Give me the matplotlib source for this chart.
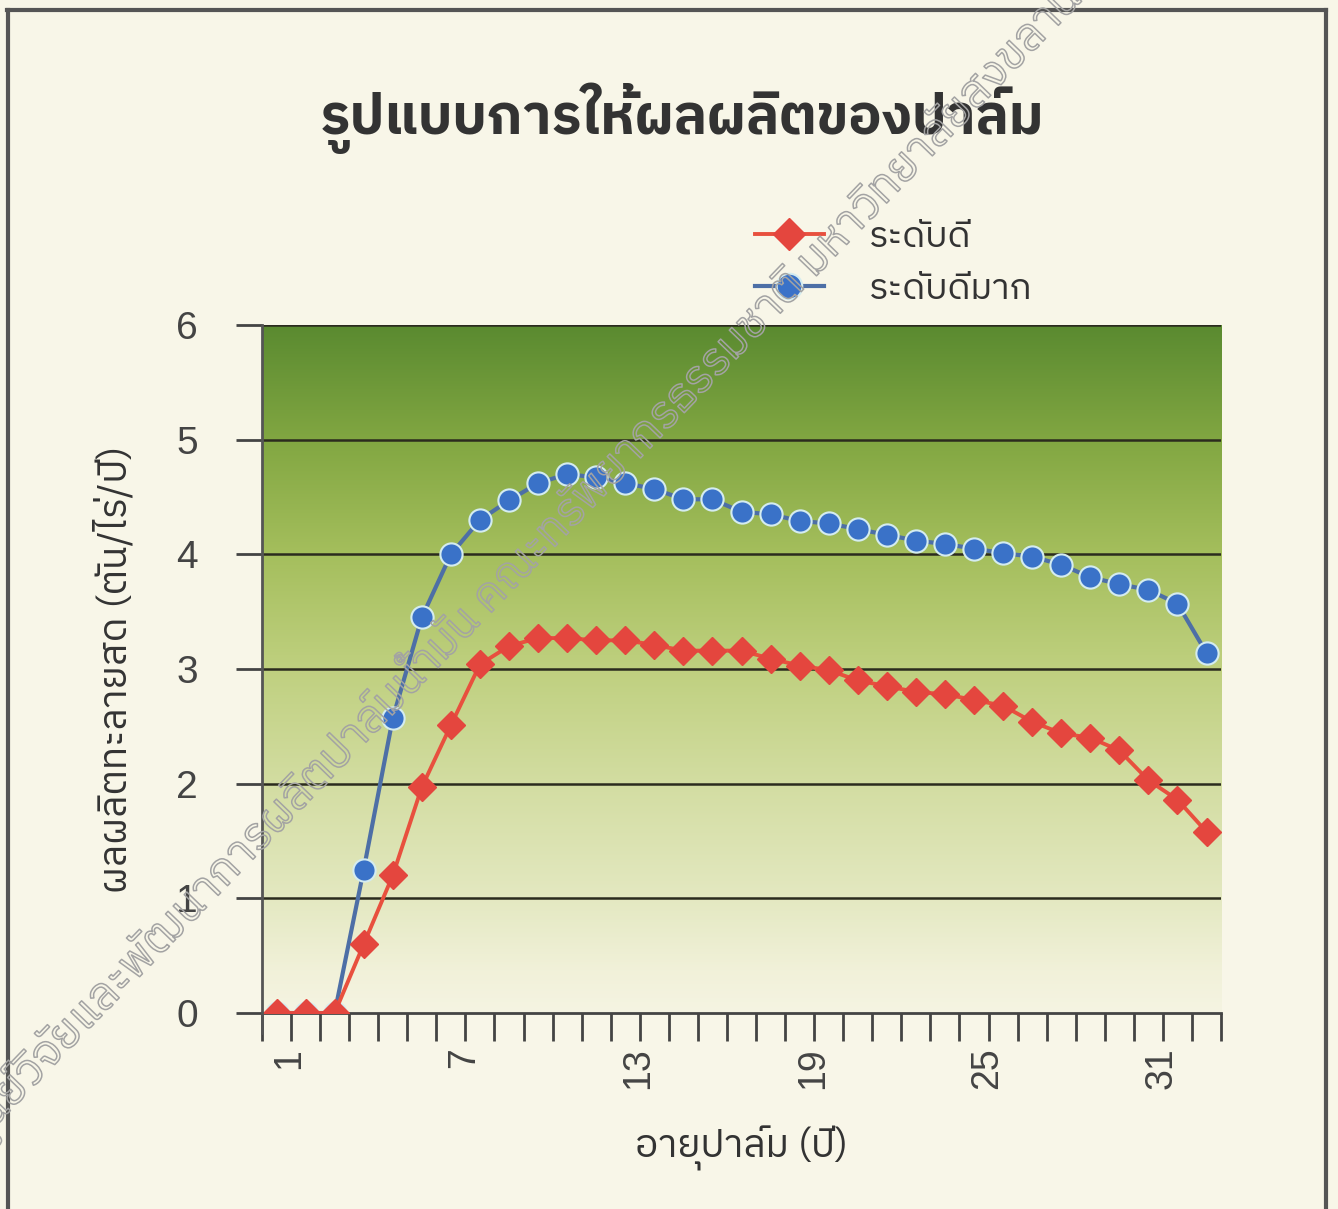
import matplotlib
matplotlib.use('Agg')
import matplotlib.pyplot as plt
import matplotlib.patheffects as pe
from matplotlib import font_manager
from matplotlib.colors import LinearSegmentedColormap
from matplotlib.lines import Line2D
import numpy as np

# palm yield (ton/rai/year) by palm age
years = np.arange(1, 34)
good = [0, 0, 0, 0.6, 1.2, 1.97, 2.51, 3.04, 3.2, 3.27, 3.27, 3.25, 3.25, 3.21,
        3.16, 3.16, 3.16, 3.09, 3.03, 2.99, 2.9, 2.85, 2.8, 2.78, 2.73, 2.68,
        2.54, 2.44, 2.4, 2.29, 2.03, 1.86, 1.58]
very_good = [0, 0, 0, 1.25, 2.57, 3.45, 4.0, 4.3, 4.47, 4.62, 4.7, 4.67, 4.62,
             4.57, 4.48, 4.48, 4.37, 4.35, 4.29, 4.27, 4.22, 4.17, 4.12, 4.09,
             4.05, 4.01, 3.98, 3.91, 3.8, 3.74, 3.69, 3.57, 3.14]
label_years = [1, 7, 13, 19, 25, 31]
series_names = ['ระดับดี', 'ระดับดีมาก']

title = 'รูปแบบการให้ผลผลิตของปาล์ม'
ylabel = 'ผลผลิตทะลายสด (ตัน/ไร่/ปี)'
xlabel = 'อายุปาล์ม (ปี)'
stamp = 'ศูนย์วิจัยและพัฒนาการผลิตปาล์มน้ำมัน คณะทรัพยากรธรรมชาติ มหาวิทยาลัยสงขลานครินทร์'

# pick a font that has thai glyphs
names = sorted({f.name for f in font_manager.fontManager.ttflist})
thai = [n for n in names if 'Thai' in n or n in ('Loma', 'Garuda', 'Sarabun', 'Kinnari', 'Norasi', 'Waree', 'Umpush', 'Laksaman')]
fam = thai[:1] + ['DejaVu Sans']
plt.rcParams['font.family'] = fam
num_font = ['Liberation Sans', 'DejaVu Sans']

bg = '#f8f6e8'
fig = plt.figure(figsize=(13.38, 12.09), dpi=100, facecolor=bg)
ax = fig.add_axes([0.1958, 0.1621, 0.7168, 0.5691])
ax.set_facecolor(bg)

# green gradient behind the lines
cmap = LinearSegmentedColormap.from_list('grn', [
    (0.0, '#f5f4e2'), (0.06, '#f1f1d9'), (0.17, '#e3e8c0'), (0.33, '#d3dda2'),
    (0.5, '#bfd07f'), (0.67, '#a4be5c'), (0.83, '#82a742'), (1.0, '#5a8a30')])
grad = np.linspace(0, 1, 256).reshape(-1, 1)
ax.imshow(grad, cmap=cmap, origin='lower', aspect='auto',
          extent=[0.5, 33.5, 0, 6], zorder=0)

ax.set_xlim(0.5, 33.5)
ax.set_ylim(0, 6)
for v in range(1, 7):
    ax.axhline(v, color='#2b2b1e', lw=1.8, zorder=1)

ax.plot(years, very_good, color='#4d6fa6', lw=3, marker='o', ms=16,
        mfc='#3a72c8', mec='#d4ecf0', mew=1.5, zorder=3, label=series_names[1])
ax.plot(years, good, color='#e8503e', lw=2.8, marker='D', ms=14,
        mfc='#e4463e', mec='#e4463e', zorder=4, label=series_names[0])

for s in ['top', 'right']:
    ax.spines[s].set_visible(False)
ax.spines['left'].set_color('#555555')
ax.spines['left'].set_linewidth(2)
ax.spines['left'].set_bounds(-0.17, 6)
ax.spines['bottom'].set_color('#444444')
ax.spines['bottom'].set_linewidth(2)
ax.spines['left'].set_zorder(5)

ax.set_yticks(range(7))
ax.set_yticklabels([str(v) for v in range(7)], family=num_font, fontsize=28,
                   color='#444444')
ax.tick_params(axis='y', length=19, width=2, color='#444444', pad=27)
ax.set_xticks(np.arange(0.5, 34, 1))
ax.set_xticklabels([])
ax.tick_params(axis='x', which='major', length=20, width=2, color='#444444')
ax.set_xticks([y + 0.45 for y in label_years], minor=True)
ax.set_xticklabels([str(y) for y in label_years], minor=True, rotation=90,
                   family=num_font, fontsize=27, color='#444444', va='top')
ax.tick_params(axis='x', which='minor', length=0, pad=25)

ax.set_ylabel(ylabel, fontsize=28, color='#333333', labelpad=30)
ax.set_xlabel(xlabel, fontsize=28, color='#333333', labelpad=26)

fig.text(0.51, 0.902, title, fontsize=40, fontweight='bold', color='#333333',
         ha='center', va='center')

h, l = ax.get_legend_handles_labels()
leg = fig.legend(h[::-1], l[::-1], loc='upper left', bbox_to_anchor=(0.54, 0.845),
                 frameon=False, fontsize=26, handlelength=1.9, labelspacing=0.5,
                 handletextpad=1.25, labelcolor='#333333', markerscale=1.15)

# frame around the figure
for xs, ys in [([0.005, 0.991], [0.992, 0.992]), ([0.006, 0.006], [0.0, 0.992]),
               ([0.991, 0.991], [0.0, 0.992])]:
    fig.add_artist(Line2D(xs, ys, color='#555555', lw=3))

# hollow stamp text across the page
fig.text(0.422, 0.571, stamp, fontsize=33, rotation=46, rotation_mode='anchor',
         ha='center', va='center', color='none',
         path_effects=[pe.Stroke(linewidth=1.1, foreground='#a3a3a3')], zorder=10)

fig.savefig('out.png', dpi=100, facecolor=bg)
